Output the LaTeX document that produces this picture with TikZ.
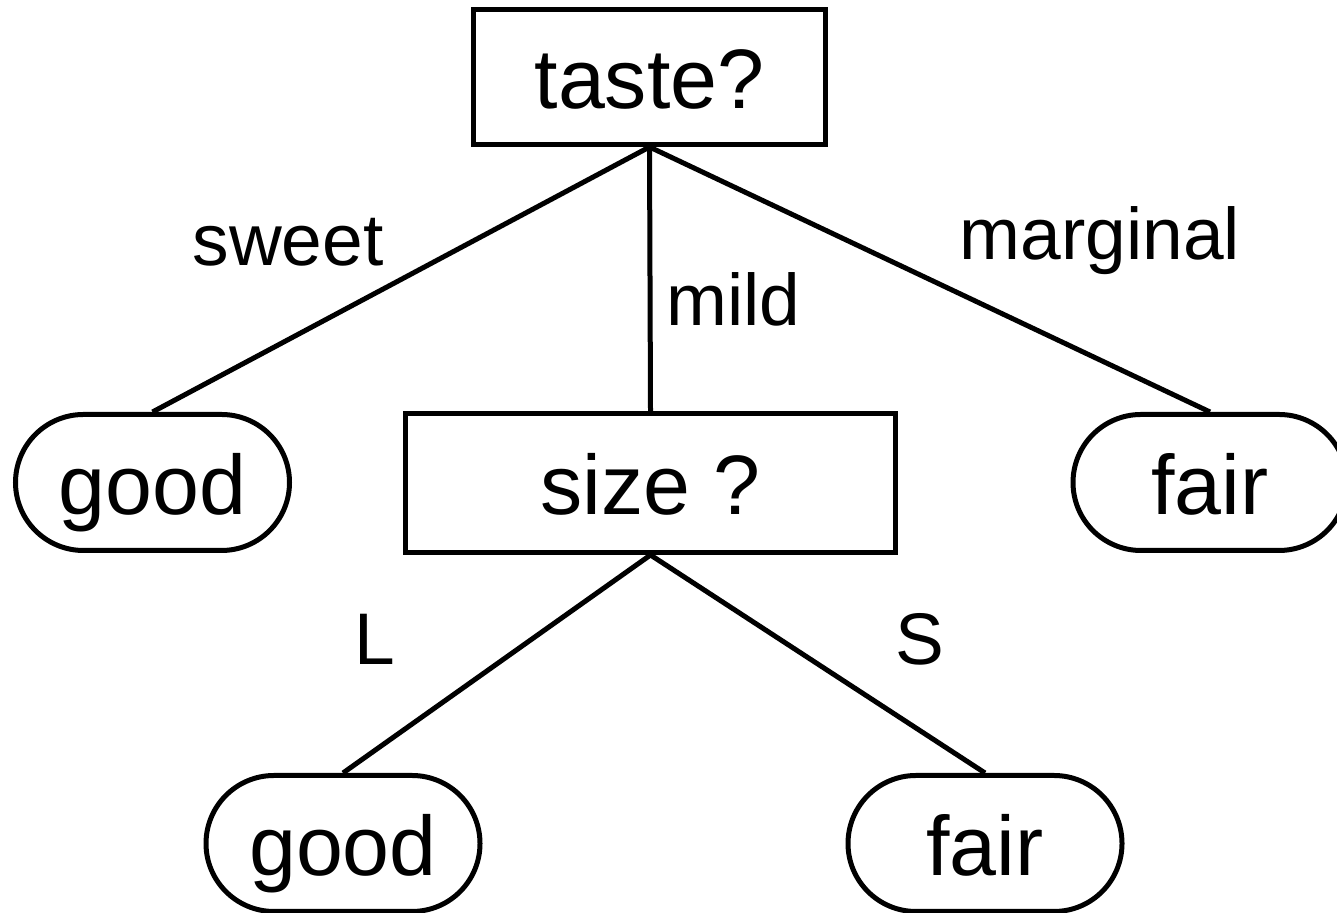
\documentclass[tikz,border=0pt]{standalone}
\usepackage{fontspec}
\setmainfont{Liberation Sans}
\usetikzlibrary{shapes.misc}
\tikzset{
  test/.style={draw, line width=.5mm, rectangle, inner sep=0pt,
    text height=8.4mm, text depth=2mm, font=\fontsize{24}{28}\selectfont},
  leaf/.style={draw, line width=.5mm, rounded rectangle, inner sep=0pt,
    minimum width=27.4mm, minimum height=13.6mm,
    text height=8.4mm, text depth=2mm, font=\fontsize{24}{28}\selectfont},
  branch/.style={anchor=base, font=\fontsize{20.8}{24}\selectfont},
}
\begin{document}
\begin{tikzpicture}[line width=.5mm]
\useasboundingbox (0,0) rectangle (13.37,9.13);
\clip (0,0) rectangle (13.37,9.13);
% inner tests
\node[test, minimum width=35.2mm, minimum height=13.5mm] (taste) at (6.495,8.36) {taste?};
\node[test, minimum width=49mm, minimum height=13.9mm] (size) at (6.505,4.30) {size ?};
% leaves
\node[leaf] (good1) at (1.525,4.305) {good};
\node[leaf] (fair1) at (12.10,4.305) {fair};
\node[leaf] (good2) at (3.43,0.695) {good};
\node[leaf] (fair2) at (9.85,0.695) {fair};
% branches
\draw (taste.south)--(good1.north);
\draw (taste.south)--(size.north);
\draw (taste.south)--(fair1.north);
\draw (size.south)--(good2.north);
\draw (size.south)--(fair2.north);
\node[branch] (sweet) at (2.88,6.47) {sweet};
\node[branch] (mild) at (7.335,5.87) {mild};
\node[branch] (marginal) at (11.00,6.53) {marginal};
\node[branch] (large) at (3.75,2.48) {L};
\node[branch] (small) at (9.20,2.48) {S};
\end{tikzpicture}
\end{document}
